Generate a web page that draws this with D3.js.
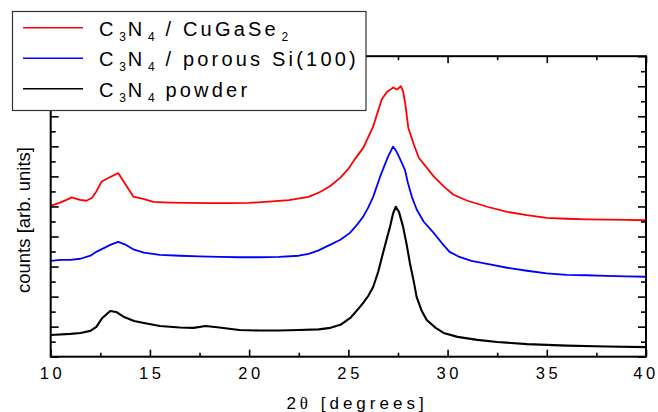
<!DOCTYPE html>
<html>
<head>
<meta charset="utf-8">
<script src="https://cdn.jsdelivr.net/npm/d3@7"></script>
<style>
  html, body { margin: 0; padding: 0; background: #fff; }
  svg { display: block; font-family: "Liberation Sans", Arial, sans-serif; }
</style>
</head>
<body>
<svg id="chart" width="658" height="412"></svg>
<script>
// ---- data (2θ in degrees, counts in arbitrary units) ----
const seriesNames = ["C3N4 / CuGaSe2", "C3N4 / porous Si(100)", "C3N4 powder"];
const seriesColors = ["#ff0000", "#0000ff", "#000000"];

const redTheta = [10.0,10.47,10.8,11.06,11.48,11.8,12.07,12.3,12.57,13.0,13.4,13.83,14.16,14.67,15.17,16.0,17,18,19,20,21,22,23,23.6,24.07,24.6,25.0,25.3,25.75,26.25,26.68,26.93,27.1,27.26,27.45,27.64,27.75,27.86,28.02,28.3,28.55,29.3,29.8,30.3,31,32,33,34,35,36,37,38,39,40];
const redCounts = [5.02,5.13,5.22,5.30,5.22,5.19,5.28,5.50,5.83,5.98,6.11,5.67,5.33,5.25,5.15,5.13,5.12,5.11,5.11,5.12,5.16,5.21,5.32,5.49,5.67,5.96,6.25,6.55,6.95,7.66,8.56,8.80,8.88,8.96,8.89,9.00,8.85,8.46,7.62,7.06,6.62,6.00,5.67,5.39,5.19,4.99,4.82,4.71,4.62,4.59,4.57,4.56,4.55,4.54];

const blueTheta = [10.0,10.5,11.0,11.5,12.0,12.3,12.7,13.0,13.4,13.8,14.2,14.7,15.5,16.5,17.5,18.5,19.5,20.5,21.5,22.5,23.0,23.5,24.07,24.6,25.08,25.4,25.75,26.0,26.25,26.6,27.0,27.25,27.4,27.55,27.85,28.0,28.2,28.45,28.8,29.3,29.7,30.1,30.6,31.2,32,33,34,35,36,37,38,39,40];
const blueCounts = [3.19,3.22,3.22,3.26,3.36,3.49,3.62,3.72,3.82,3.72,3.56,3.46,3.39,3.36,3.34,3.32,3.31,3.31,3.32,3.36,3.42,3.54,3.72,3.89,4.12,4.36,4.66,4.96,5.32,5.99,6.66,6.99,6.86,6.66,6.22,5.79,5.32,4.89,4.49,4.12,3.79,3.49,3.32,3.19,3.09,2.96,2.86,2.77,2.72,2.71,2.69,2.67,2.66];

const blackTheta = [10.0,11.0,11.5,12.0,12.3,12.6,13.0,13.3,13.7,14.2,14.7,15.5,16.5,17.2,17.8,18.5,19.5,20.5,21.5,22.5,23.5,24.1,24.6,25.1,25.5,25.75,26.0,26.25,26.5,26.75,26.95,27.1,27.25,27.39,27.55,27.76,27.95,28.1,28.3,28.44,28.7,28.95,29.4,29.8,30.5,31.5,32.5,34,36,38,40];
const blackCounts = [0.72,0.76,0.79,0.86,0.99,1.29,1.52,1.49,1.32,1.19,1.12,1.02,0.97,0.96,1.02,0.97,0.89,0.87,0.87,0.89,0.91,0.96,1.06,1.29,1.59,1.79,2.02,2.32,2.82,3.46,3.96,4.32,4.76,4.99,4.82,4.32,3.69,3.12,2.49,1.99,1.52,1.22,0.96,0.79,0.66,0.56,0.49,0.42,0.37,0.34,0.32];

const xMajorTicks = [10, 15, 20, 25, 30, 35, 40];
const xMinorTicks = [12.5, 17.5, 22.5, 27.5, 32.5, 37.5];
const yMajorTicks = [0,1,2,3,4,5,6,7,8,9,10];
const yMinorTicks = [0.5,1.5,2.5,3.5,4.5,5.5,6.5,7.5,8.5,9.5];
const yLabel = "counts [arb. units]";

// ---- layout ----
const svg = d3.select("#chart");
const L = 50.7, R = 646, T = 56.2, B = 356.7;
const x = d3.scaleLinear().domain([10, 40]).range([L, R]);
const y = d3.scaleLinear().domain([0, 10]).range([B, T]);

const series = [
  {theta: redTheta, counts: redCounts, color: seriesColors[0]},
  {theta: blueTheta, counts: blueCounts, color: seriesColors[1]},
  {theta: blackTheta, counts: blackCounts, color: seriesColors[2]}
];

const line = d3.line().x(d => x(d[0])).y(d => y(d[1]));
const plot = svg.append("g");
series.slice().reverse().forEach(s => {
  plot.append("path")
    .datum(d3.zip(s.theta, s.counts))
    .attr("fill", "none")
    .attr("stroke", s.color)
    .attr("stroke-width", s.color === "#000000" ? 2.1 : 1.8)
    .attr("stroke-linejoin", "round")
    .attr("d", line);
});

// ---- axes (ticks inward on all four sides) ----
function styleAxis(g) {
  g.select(".domain").remove();
  g.selectAll(".tick line").attr("stroke", "#000").attr("stroke-width", 1.6);
  g.selectAll(".tick text").remove();
}
svg.append("g").attr("transform", `translate(0,${B})`)
  .call(d3.axisBottom(x).tickValues(xMajorTicks).tickSize(-7)).call(styleAxis);
svg.append("g").attr("transform", `translate(0,${B})`)
  .call(d3.axisBottom(x).tickValues(xMinorTicks).tickSize(-4)).call(styleAxis);
svg.append("g").attr("transform", `translate(0,${T})`)
  .call(d3.axisTop(x).tickValues(xMajorTicks).tickSize(-7)).call(styleAxis);
svg.append("g").attr("transform", `translate(0,${T})`)
  .call(d3.axisTop(x).tickValues(xMinorTicks).tickSize(-4)).call(styleAxis);
svg.append("g").attr("transform", `translate(${L},0)`)
  .call(d3.axisLeft(y).tickValues(yMajorTicks).tickSize(-8)).call(styleAxis);
svg.append("g").attr("transform", `translate(${L},0)`)
  .call(d3.axisLeft(y).tickValues(yMinorTicks).tickSize(-5)).call(styleAxis);
svg.append("g").attr("transform", `translate(${R},0)`)
  .call(d3.axisRight(y).tickValues(yMajorTicks).tickSize(-8)).call(styleAxis);
svg.append("g").attr("transform", `translate(${R},0)`)
  .call(d3.axisRight(y).tickValues(yMinorTicks).tickSize(-5)).call(styleAxis);

// frame
svg.append("rect").attr("x", L).attr("y", T).attr("width", R - L).attr("height", B - T)
  .attr("fill", "none").attr("stroke", "#000").attr("stroke-width", 2);

// x tick labels
const tls = 3.6;
svg.append("g").selectAll("text").data(xMajorTicks).join("text")
  .attr("x", (d, i) => x(d) + (i === xMajorTicks.length - 1 ? 0 : tls / 2))
  .attr("y", B + 22)
  .attr("text-anchor", "middle")
  .attr("font-size", 16.5)
  .attr("letter-spacing", tls)
  .attr("fill", "#000")
  .text(d => d);

// axis titles
const xt = svg.append("text")
  .attr("x", 357).attr("y", 409)
  .attr("text-anchor", "middle")
  .attr("font-size", 17)
  .attr("letter-spacing", 4)
  .attr("fill", "#000");
xt.append("tspan").text("2");
xt.append("tspan").attr("font-family", "Liberation Serif, DejaVu Serif, serif").text("θ");
xt.append("tspan").text(" [degrees]");

svg.append("text")
  .attr("transform", "translate(30,220) rotate(-90)")
  .attr("text-anchor", "middle")
  .attr("font-size", 18.5)
  .attr("fill", "#000")
  .text(yLabel);

// ---- legend ----
const leg = svg.append("g");
leg.append("rect").attr("x", 12.5).attr("y", 11.5).attr("width", 353.5).attr("height", 99)
  .attr("fill", "#fff").attr("stroke", "#333").attr("stroke-width", 1.2);

const legRows = [
  [["C",0],["3",1],["N",0],["4",1],[" / CuGaSe",0],["2",1]],
  [["C",0],["3",1],["N",0],["4",1],[" / porous Si(100)",0]],
  [["C",0],["3",1],["N",0],["4",1],[" powder",0]]
];
legRows.forEach((parts, i) => {
  const cy = 27.7 + i * 30.5;
  leg.append("line").attr("x1", 23).attr("x2", 83).attr("y1", cy).attr("y2", cy)
    .attr("stroke", seriesColors[i]).attr("stroke-width", 1.6);
  const t = leg.append("text")
    .attr("x", 99).attr("y", cy + 8)
    .attr("font-size", 20)
    .attr("fill", "#000");
  let prevSub = false;
  parts.forEach(([str, sub]) => {
    const ts = t.append("tspan").text(str);
    if (sub) {
      ts.attr("font-size", 12).attr("dy", 5).attr("dx", 2.5).attr("letter-spacing", 0);
    } else {
      ts.attr("letter-spacing", 3.2);
      if (prevSub) ts.attr("dy", -5).attr("dx", 2);
    }
    prevSub = !!sub;
  });
});
</script>
</body>
</html>
